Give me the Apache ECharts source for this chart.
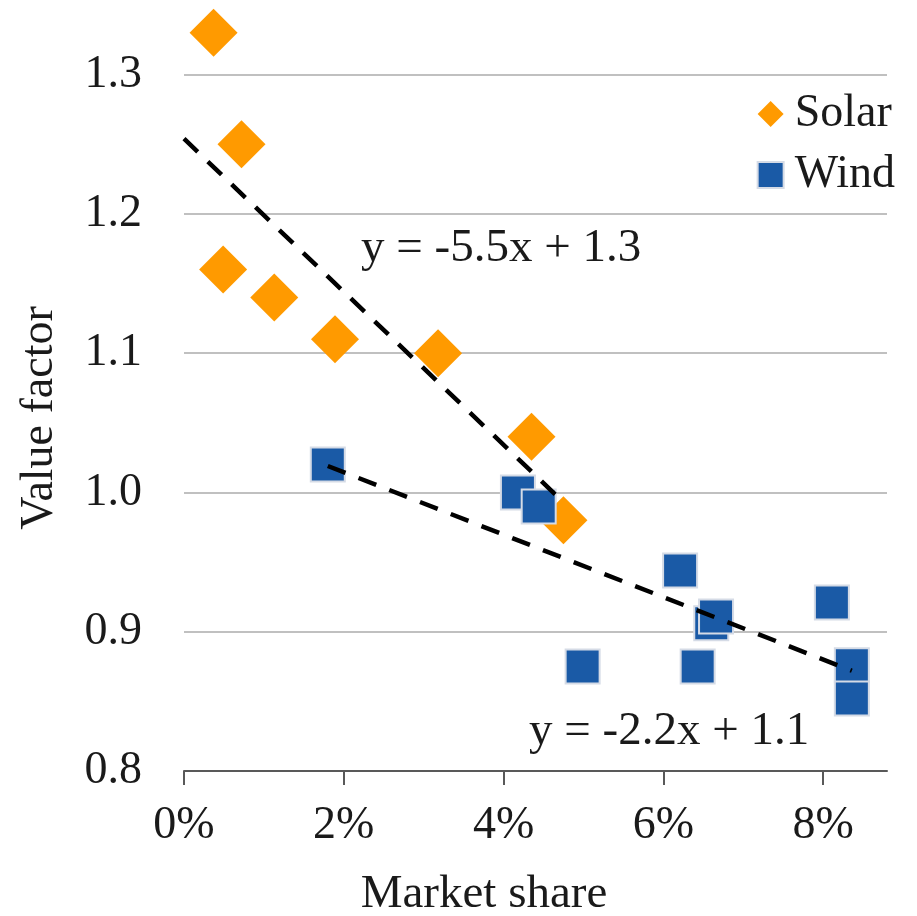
<!DOCTYPE html>
<html>
<head>
<meta charset="utf-8">
<script src="https://cdn.jsdelivr.net/npm/echarts@6.0.0/dist/echarts.min.js"></script>
<style>
  html, body { margin: 0; padding: 0; background: #fff; }
  #main { width: 917px; height: 916px; }
</style>
</head>
<body>
<div id="main"></div>
<script>
var FONT = "'Liberation Serif', 'Times New Roman', serif";

// market share in %, value factor
var solarShare = [0.37, 0.72, 0.49, 1.13, 1.89, 3.18, 4.35, 4.75];
var solarValue = [1.33, 1.25, 1.16, 1.14, 1.11, 1.10, 1.04, 0.98];

var windShare = [1.80, 4.18, 4.44, 6.21, 6.60, 6.66, 4.99, 6.43, 8.11, 8.36, 8.36];
var windValue = [1.02, 1.00, 0.99, 0.944, 0.906, 0.911, 0.875, 0.875, 0.921, 0.876, 0.852];

// trend line end points
var solarTrend = [[0, 1.254], [4.75, 0.993]];
var windTrend = [[1.80, 1.019], [8.36, 0.872]];

var xTicks = [0, 2, 4, 6, 8];
var yTicks = [0.8, 0.9, 1.0, 1.1, 1.2, 1.3];

function pairs(xs, ys) {
    return xs.map(function (x, i) { return [x, ys[i]]; });
}

var chart = echarts.init(document.getElementById('main'));

var option = {
    animation: false,
    backgroundColor: '#fff',
    textStyle: { fontFamily: FONT },
    grid: { left: 184, right: 30, top: 5, bottom: 145 },
    legend: {
        data: ['Solar', 'Wind'],
        orient: 'vertical',
        right: 17,
        top: 86,
        itemWidth: 26,
        itemHeight: 26,
        itemGap: 15,
        textStyle: { fontFamily: FONT, fontSize: 46, color: '#1a1a1a', padding: [0, 0, 0, 6] }
    },
    xAxis: {
        type: 'value',
        min: 0,
        max: 8.8,
        interval: 2,
        axisLine: { lineStyle: { color: '#595959', width: 2 } },
        axisTick: { show: true, length: 14, customValues: xTicks, lineStyle: { color: '#595959', width: 2 } },
        axisLabel: {
            customValues: xTicks,
            formatter: '{value}%',
            margin: 32,
            fontFamily: FONT,
            fontSize: 46,
            color: '#1a1a1a'
        },
        splitLine: { show: false }
    },
    yAxis: {
        type: 'value',
        min: 0.8,
        max: 1.35,
        interval: 0.1,
        axisLine: { show: false },
        axisTick: { show: false },
        axisLabel: {
            customValues: yTicks,
            formatter: function (v) { return v.toFixed(1); },
            margin: 42,
            fontFamily: FONT,
            fontSize: 46,
            color: '#1a1a1a'
        },
        splitLine: { show: true, showMaxLine: false, lineStyle: { color: '#c0c0c0', width: 2 } }
    },
    series: [
        {
            name: 'Solar',
            type: 'scatter',
            symbol: 'diamond',
            symbolSize: 48,
            itemStyle: { color: '#ff9a00', opacity: 1 },
            data: pairs(solarShare, solarValue),
            z: 2
        },
        {
            name: 'Wind',
            type: 'scatter',
            symbol: 'rect',
            symbolSize: 34,
            itemStyle: { color: '#1a5aa6', borderColor: '#d5dbe6', borderWidth: 2, opacity: 1 },
            data: pairs(windShare, windValue),
            z: 3
        },
        {
            name: 'Solar trend',
            type: 'line',
            symbol: 'none',
            lineStyle: { color: '#000', width: 4.5, type: [19, 14] },
            data: solarTrend,
            z: 5
        },
        {
            name: 'Wind trend',
            type: 'line',
            symbol: 'none',
            lineStyle: { color: '#000', width: 4.5, type: [19, 14] },
            data: windTrend,
            z: 5
        }
    ],
    graphic: [
        {
            type: 'text', left: 361, top: 225, z: 10,
            style: { text: 'y = -5.5x + 1.3', fontFamily: FONT, fontSize: 47, fill: '#1a1a1a' }
        },
        {
            type: 'text', left: 529, top: 708, z: 10,
            style: { text: 'y = -2.2x + 1.1', fontFamily: FONT, fontSize: 47, fill: '#1a1a1a' }
        },
        {
            type: 'text', x: 484, y: 895, z: 10,
            style: { text: 'Market share', fontFamily: FONT, fontSize: 47, fill: '#1a1a1a', align: 'center', verticalAlign: 'middle' }
        },
        {
            type: 'text', x: 40, y: 418, rotation: Math.PI / 2, z: 10,
            style: { text: 'Value factor', fontFamily: FONT, fontSize: 46, fill: '#1a1a1a', align: 'center', verticalAlign: 'middle' }
        }
    ]
};

chart.setOption(option);
</script>
</body>
</html>
